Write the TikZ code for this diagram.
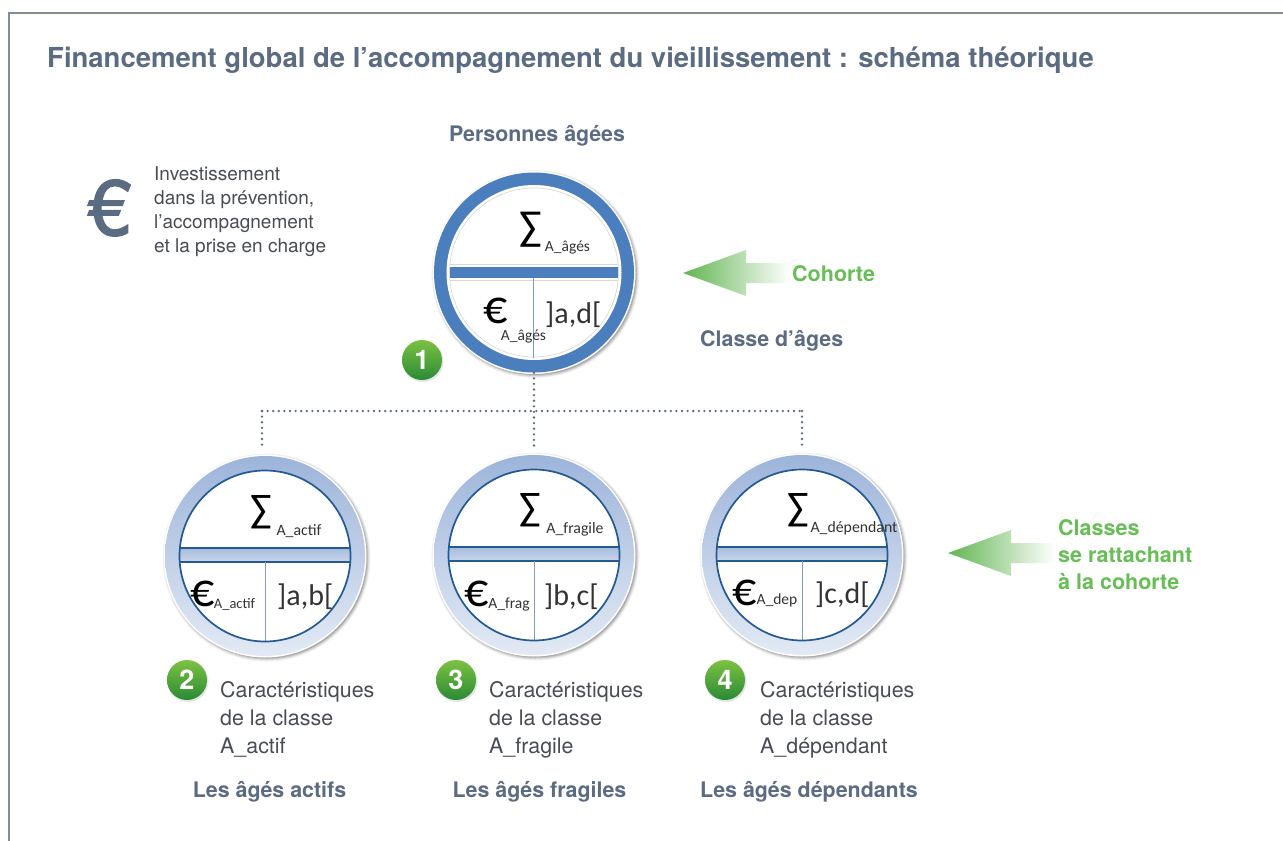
\documentclass[tikz,border=0pt]{standalone}
\usepackage{fontspec}
\setmainfont{TeX Gyre Heros}
\newfontfamily\calib{Carlito}
\newfontfamily\eurof[FakeBold=2]{TeX Gyre Heros}
\usetikzlibrary{shadings}
\definecolor{slate}{HTML}{5B6C82}
\definecolor{framec}{HTML}{7F8D9C}
\definecolor{leaf}{HTML}{66BE55}
\definecolor{bodyc}{HTML}{484D53}
\definecolor{ringblue}{HTML}{4A7EBD}
\definecolor{darkblue}{HTML}{235A92}
\definecolor{ringtop}{HTML}{9DB4DA}
\definecolor{ringbot}{HTML}{E3EAF5}
\definecolor{bartop}{HTML}{A6BBDD}
\definecolor{barbot}{HTML}{C9D6EA}
\definecolor{thinv}{HTML}{7C9CC8}
\definecolor{badgetop}{HTML}{7CC242}
\definecolor{badgebot}{HTML}{2A8A35}
\newcommand{\fsz}[2]{\fontsize{#1}{#2}\selectfont}
\newcommand{\softshadow}[2]{%
  \foreach \k/\o in {4/0.05,3/0.07,2/0.10,1/0.14}{
    \fill[black,opacity=\o] (#1) ++(1.5,1.5) circle ({#2+\k});}
  \fill[white] (#1) circle ({#2+1.5});}
\newcommand{\badge}[3]{%
  \fill[black!40,opacity=.25] (#2) ++(1,1.5) circle (20.5);
  \node[badgenode,name=#1] at (#2) {#3};}
\newcommand{\greenarrow}[3]{% x tip, y mid, total length
  \shade[left color=leaf!95!black,right color=white]
    (#1,#2) -- ++(63,-23) -- ++(0,13) -- ++(#3-63,0) -- ++(0,20) -- ++(-#3+63,0) -- ++(0,13) -- cycle;}
\tikzset{
  x=1pt,y=-1pt,
  badgenode/.style={circle,minimum size=40pt,inner sep=0pt,text=white,
    font=\bfseries\fsz{27}{27},top color=badgetop,bottom color=badgebot},
  caption/.style={anchor=base,text=slate,inner sep=0pt,font=\bfseries\fsz{21.4}{26}},
  lightxt/.style={anchor=north west,align=left,text=bodyc,inner sep=0pt,font=\fsz{21.4}{28}},
  greentxt/.style={anchor=base west,text=leaf,inner sep=0pt,font=\bfseries\fsz{21.5}{27},align=left},
  dotconn/.style={draw=slate,line width=2.6pt,line cap=round,dash pattern=on 0pt off 5.6pt},
  disc/.style={circle,minimum size=200pt,inner sep=0pt},
  glyphbig/.style={text=black,inner sep=0pt,anchor=base,font=\calib\fsz{40}{40}},
  subt/.style={text=black!80,inner sep=0pt,anchor=base,font=\calib\fsz{15.8}{16}},
  rangetxt/.style={text=black!80,inner sep=0pt,anchor=base west,font=\calib\fsz{30}{30}},
  euroglyph/.style={text=black,inner sep=0pt,anchor=base,font=\calib\fsz{48}{48}},
}
\newcommand{\childdisc}[4]{% name, x, y, bar y
  \softshadow{#2,#3}{100}
  \shade[top color=ringtop,bottom color=ringbot] (#2,#3) circle (100);
  \fill[white] (#2,#3) circle (85.5);
  \begin{scope}
    \clip (#2,#3) circle (85.5);
    \shade[top color=bartop,bottom color=barbot] (#2-90,#4) rectangle (#2+90,#4+14);
    \draw[darkblue,line width=1.6pt] (#2-90,#4) -- (#2+90,#4) (#2-90,#4+14) -- (#2+90,#4+14);
    \draw[thinv,line width=1pt] (#2,#4+14) -- (#2,#3+90);
  \end{scope}
  \draw[darkblue,line width=1.7pt] (#2,#3) circle (85.5);
  \node[disc,name=#1] at (#2,#3) {};}
\begin{document}
\begin{tikzpicture}
\useasboundingbox (0,0) rectangle (1283,841);
\fill[white] (0,0) rectangle (1283,841);
% frame
\coordinate (fa) at (8.5,841); \coordinate (fb) at (8.5,13); \coordinate (fc) at (1283,13);
\draw[framec,line width=2pt] (fa) -- (fb) -- (fc);
% title
\node[anchor=base west,inner sep=0pt,text=slate,font=\bfseries\fsz{27.5}{30}] (title) at (47,67)
  {Financement global de l’accompagnement du vieillissement : schéma théorique};
\node[caption] (pa) at (537,141) {Personnes âgées};
% legend
\node[anchor=base,inner sep=0pt,text=slate,font=\eurof\fsz{78}{78}] (eur) at (109.5,235) {€};
\node[lightxt,font=\fsz{19}{24}] (inv) at (154,166) {Investissement\\dans la prévention,\\l’accompagnement\\et la prise en charge};
% connector coordinates
\coordinate (bm) at (534,411); \coordinate (bl) at (262,411); \coordinate (br) at (802,411);
\coordinate (dl) at (262,450); \coordinate (dm) at (534,450); \coordinate (dr) at (802,450);
% main disc
\softshadow{534,272.5}{100}
\fill[ringblue] (534,272.5) circle (100);
\fill[white] (534,272.5) circle (87.5);
\draw[black!15,line width=.7pt] (534,272.5) circle (84.5);
\draw[black!15,line width=.7pt] (450,264.5) -- (618,264.5) (450,280) -- (618,280);
\fill[ringblue] (450,267) rectangle (618,277.5);
\draw[thinv,line width=1pt] (533.5,277.5) -- (533.5,358);
\node[disc,name=c0] at (534,272.5) {};
\node[glyphbig,font=\calib\fsz{42}{42}] (s0) at (530.5,240) {∑};
\node[subt,font=\calib\fsz{15.5}{16}] (s0t) at (567.5,251) {A\_âgés};
\node[euroglyph] (e0) at (496,323) {€};
\node[subt,font=\calib\fsz{15.5}{16}] (e0t) at (523.5,340) {A\_âgés};
\node[rangetxt] (r0) at (545,323) {]a,d[};
% children
\childdisc{c1}{265}{556}{548}
\node[glyphbig] (s1) at (261,522.5) {∑};
\node[subt] (s1t) at (299,535) {A\_actif};
\node[euroglyph] (e1) at (203,606) {€};
\node[subt,font=\calib\fsz{14.5}{16}] (e1t) at (234.5,608) {A\_actif};
\node[rangetxt] (r1) at (277,605) {]a,b[};
\childdisc{c2}{534}{555}{547}
\node[glyphbig] (s2) at (530.5,520.5) {∑};
\node[subt] (s2t) at (575,533) {A\_fragile};
\node[euroglyph] (e2) at (477,606) {€};
\node[subt,font=\calib\fsz{15.5}{16}] (e2t) at (509,608) {A\_frag};
\node[rangetxt] (r2) at (544,605) {]b,c[};
\childdisc{c3}{802}{555}{547}
\node[glyphbig] (s3) at (798,520.5) {∑};
\node[subt] (s3t) at (854,532) {A\_dépendant};
\node[euroglyph] (e3) at (745,605) {€};
\node[subt,font=\calib\fsz{15.5}{16}] (e3t) at (777,604) {A\_dep};
\node[rangetxt] (r3) at (815,603) {]c,d[};
% dotted connectors
\draw[dotconn] (c0.south) -- (bm) -- (dm);
\draw[dotconn] (bl) -- (br);
\draw[dotconn] (bl) -- (dl);
\draw[dotconn] (br) -- (dr);
% badges
\badge{b1}{422,360}{1}
\badge{b2}{187,680}{2}
\badge{b3}{456,680}{3}
\badge{b4}{725,680}{4}
% arrows
\greenarrow{683}{273}{107}
\greenarrow{948}{553}{107}
\node[greentxt] (coh) at (792,281) {Cohorte};
\node[caption,anchor=base west] (cl) at (700,346) {Classe d’âges};
\node[greentxt,anchor=north west] (cr) at (1058,519) {Classes\\se rattachant\\à la cohorte};
% characteristics
\node[lightxt] (t1) at (220,681) {Caractéristiques\\de la classe\\A\_actif};
\node[lightxt] (t2) at (489,681) {Caractéristiques\\de la classe\\A\_fragile};
\node[lightxt] (t3) at (760,681) {Caractéristiques\\de la classe\\A\_dépendant};
\node[caption] (l1) at (269.5,797) {Les âgés actifs};
\node[caption] (l2) at (539.5,797) {Les âgés fragiles};
\node[caption] (l3) at (809,797) {Les âgés dépendants};
\end{tikzpicture}
\end{document}
